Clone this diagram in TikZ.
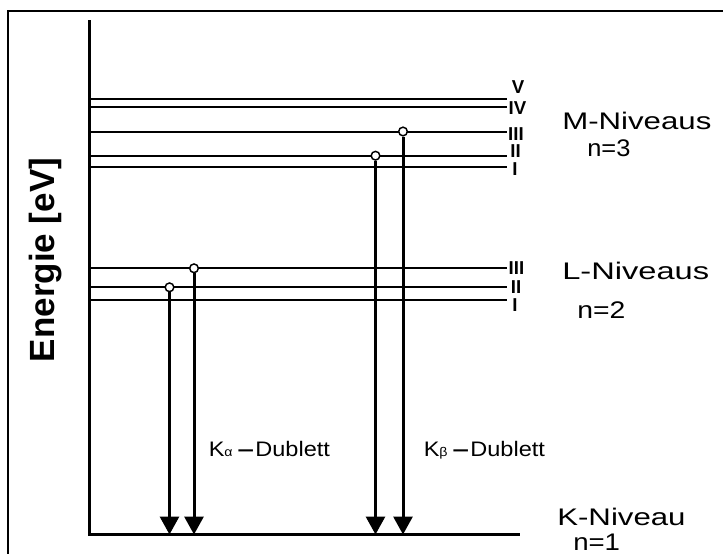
\documentclass[tikz,border=0pt]{standalone}
\usepackage{fontspec}
\setmainfont{Liberation Sans}
\usepackage{graphicx}
\usetikzlibrary{arrows.meta}
\newcommand\mysub[1]{{\fontsize{9.5}{9.5}\selectfont #1}}
\newcommand\mydash{{\bfseries\scalebox{1.25}[1]{–}}}
\tikzset{
  frameline/.style={line width=1.7pt},
  axisline/.style={line width=2.25pt, line join=miter},
  trans/.style={line width=2.25pt, -{Triangle[width=14.25pt,length=13.5pt]}},
  origin/.style={circle, draw, fill=white, line width=1.1pt, minimum size=6.5pt, inner sep=0pt},
  roman/.style={font=\fontsize{14}{14}\selectfont\bfseries, inner sep=0pt},
  levname/.style={anchor=base west, inner sep=0pt, font=\fontsize{18}{18}\selectfont},
  dub/.style={anchor=base west, inner sep=0pt, font=\fontsize{15.75}{15.75}\selectfont},
}
\begin{document}
\begin{tikzpicture}[x=0.75pt,y=-0.75pt]
\useasboundingbox (0,0) rectangle (723,554);
% frame (only top and left edges visible)
\coordinate (fr1) at (723,11);
\coordinate (fr2) at (8.3,11);
\coordinate (fr3) at (8.3,554);
\draw[frameline] (fr1) -- (fr2) -- (fr3);
% axis and K level
\coordinate (axtop) at (89.5,20);
\coordinate (axbot) at (89.5,534.5);
\coordinate (kend) at (520,534.5);
\draw[axisline] (axtop) -- (axbot) -- (kend);
% M and L levels
\foreach \n/\y/\w in {mV/99/2pt, mIV/107/1.4pt, mIII/131.5/1.5pt, mII/155.7/1.5pt, mI/167/1.5pt,
                      lIII/268.3/1.5pt, lII/287.3/1.5pt, lI/300/1.5pt}{
  \coordinate (\n a) at (89.5,\y);
  \coordinate (\n b) at (507,\y);
  \draw[line width=\w] (\n a) -- (\n b);
}
% roman numerals
\node[roman] (rmV)   at (518,87.5)  {V};
\node[roman] (rmIV)  at (517.5,108.3) {IV};
\node[roman] (rmIII) at (516,133.7) {III};
\node[roman] (rmII)  at (515.5,151) {II};
\node[roman] (rmI)   at (515,169) {I};
\node[roman] (rlIII) at (516.5,268) {III};
\node[roman] (rlII)  at (516,287)   {II};
\node[roman] (rlI)   at (515,305)   {I};
% origins of transitions
\node[origin] (a1) at (169.5,287.3) {};
\node[origin] (a2) at (194,268.3) {};
\node[origin] (b1) at (375.5,155.7) {};
\node[origin] (b2) at (403,131.5) {};
\coordinate (a1e) at (169.5,534.5);
\coordinate (a2e) at (194,534.5);
\coordinate (b1e) at (375.5,534.5);
\coordinate (b2e) at (403,534.5);
\draw[trans] (a1.south) -- (a1e);
\draw[trans] (a2.south) -- (a2e);
\draw[trans] (b1.south) -- (b1e);
\draw[trans] (b2.south) -- (b2e);
% doublet labels
\node[dub] (ka) at (208.5,456) {\scalebox{1.12}[1]{K\mysub{α}\hspace{3.4pt}\mydash\hspace{0.9pt}Dublett}};
\node[dub] (kb) at (423.5,456) {\scalebox{1.12}[1]{K\mysub{β}\hspace{3.4pt}\mydash\hspace{0.9pt}Dublett}};
% level names
\node[levname] (mlab) at (562,129.5) {\scalebox{1.3}[1]{M-Niveaus}};
\node[levname] (mn)   at (587,156.7) {\scalebox{1.06}[1]{n=3}};
\node[levname] (llab) at (562,279.3) {\scalebox{1.36}[1]{L-Niveaus}};
\node[levname] (ln)   at (577,318.3) {\scalebox{1.18}[1]{n=2}};
\node[levname] (klab) at (557,525)   {\scalebox{1.3}[1]{K-Niveau}};
\node[levname] (kn)   at (573,550)   {\scalebox{1.15}[1]{n=1}};
% axis label
\node[rotate=90, inner sep=0pt, font=\fontsize{26.25}{26.25}\selectfont\bfseries] (ylab) at (46,260) {Energie [eV]};
\end{tikzpicture}
\end{document}
